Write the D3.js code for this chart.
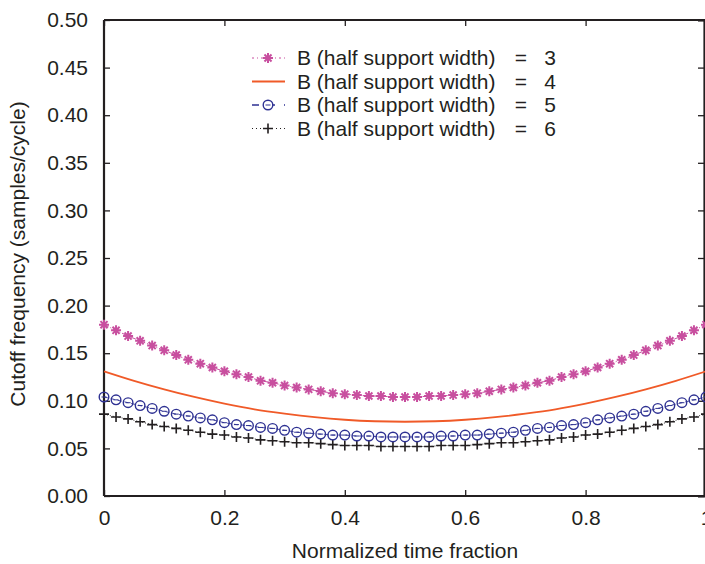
<!DOCTYPE html>
<html>
<head>
<meta charset="utf-8">
<script src="https://cdn.jsdelivr.net/npm/d3@7"></script>
<style>
  body { margin: 0; background: #fff; }
  svg text { font-family: "Liberation Sans", Arial, sans-serif; fill: #231f20; }
</style>
</head>
<body>
<div class="chart"></div>
<script>
// sample positions (normalized time fraction), step 0.02
var tValues = d3.range(51).map(function (i) { return i / 50; });

// values (cutoff frequency, samples/cycle)
var b3 = [0.180, 0.174, 0.168, 0.163, 0.158, 0.153, 0.148, 0.143, 0.139, 0.135,
          0.131, 0.128, 0.125, 0.121, 0.119, 0.116, 0.114, 0.112, 0.110, 0.108,
          0.107, 0.106, 0.105, 0.105, 0.104, 0.104, 0.104, 0.105, 0.105, 0.106,
          0.107, 0.108, 0.110, 0.112, 0.114, 0.116, 0.119, 0.121, 0.125, 0.128,
          0.131, 0.135, 0.139, 0.143, 0.148, 0.153, 0.158, 0.163, 0.168, 0.174, 0.180];
var b5 = [0.104, 0.101, 0.098, 0.095, 0.092, 0.089, 0.086, 0.084, 0.082, 0.080,
          0.077, 0.075, 0.074, 0.072, 0.071, 0.069, 0.067, 0.066, 0.065, 0.064,
          0.064, 0.063, 0.063, 0.062, 0.062, 0.062, 0.062, 0.062, 0.063, 0.063,
          0.064, 0.064, 0.065, 0.066, 0.067, 0.069, 0.071, 0.072, 0.074, 0.075,
          0.077, 0.080, 0.082, 0.084, 0.086, 0.089, 0.092, 0.095, 0.098, 0.101, 0.104];
var b6 = [0.086, 0.083, 0.081, 0.078, 0.075, 0.073, 0.071, 0.069, 0.067, 0.065,
          0.064, 0.062, 0.061, 0.059, 0.058, 0.057, 0.056, 0.056, 0.055, 0.054,
          0.053, 0.053, 0.053, 0.052, 0.052, 0.052, 0.052, 0.052, 0.053, 0.053,
          0.053, 0.054, 0.055, 0.056, 0.056, 0.057, 0.058, 0.059, 0.061, 0.062,
          0.064, 0.065, 0.067, 0.069, 0.071, 0.073, 0.075, 0.078, 0.081, 0.083, 0.086];
// solid curve, sampled every 0.05
var tLine = d3.range(21).map(function (i) { return i / 20; });
var b4 = [0.131, 0.121, 0.112, 0.104, 0.097, 0.091, 0.0865, 0.0828, 0.0801, 0.0785,
          0.078, 0.0785, 0.0801, 0.0828, 0.0865, 0.091, 0.097, 0.104, 0.112, 0.121, 0.131];

var xTicks = [0, 0.2, 0.4, 0.6, 0.8, 1];
var yTicks = [0, 0.05, 0.10, 0.15, 0.20, 0.25, 0.30, 0.35, 0.40, 0.45, 0.50];
var legendLabels = ["3", "4", "5", "6"];

var W = 705, H = 564;
var mLeft = 104, mRight = 706, mTop = 20, mBottom = 496;
var fs = 21;

var svg = d3.select(".chart").append("svg")
    .attr("width", W).attr("height", H);

var x = d3.scaleLinear().domain([0, 1]).range([mLeft, mRight]);
var y = d3.scaleLinear().domain([0, 0.5]).range([mBottom, mTop]);

var axisColor = "#231f20";
var pink = "#c84f9f", orange = "#f05a28", blue = "#2e3192", black = "#231f20";

// axes with inward ticks
var gx = svg.append("g").attr("transform", "translate(0," + mBottom + ")")
    .call(d3.axisBottom(x).tickValues(xTicks).tickSize(-6).tickPadding(14)
        .tickFormat(function (d) { return d === 0 ? "0" : d === 1 ? "1" : d3.format(".1f")(d); }));
var gy = svg.append("g").attr("transform", "translate(" + mLeft + ",0)")
    .call(d3.axisLeft(y).tickValues(yTicks).tickSize(-6).tickPadding(16)
        .tickFormat(d3.format(".2f")));
var gt = svg.append("g").attr("transform", "translate(0," + mTop + ")")
    .call(d3.axisTop(x).tickValues(xTicks).tickSize(-6).tickFormat(""));
var gr = svg.append("g").attr("transform", "translate(" + (mRight - 2) + ",0)")
    .call(d3.axisRight(y).tickValues(yTicks).tickSize(-6).tickFormat(""));

[gx, gy, gt, gr].forEach(function (g) {
    g.select(".domain").attr("stroke", axisColor).attr("stroke-width", 2.2);
    g.selectAll(".tick line").attr("stroke", axisColor).attr("stroke-width", 1.3);
    g.selectAll(".tick text").attr("font-size", fs).style("fill", axisColor)
        .attr("font-family", "Liberation Sans, Arial, sans-serif");
});
gx.selectAll(".tick text").attr("dy", "0.71em");
gy.select(".domain").attr("d", "M0," + mTop + "V" + mBottom);
gx.select(".domain").attr("d", "M" + mLeft + ",0H" + mRight);
gt.select(".domain").attr("d", "M" + mLeft + ",0H" + mRight);

// axis titles
svg.append("text")
    .attr("x", 405).attr("y", 558)
    .attr("text-anchor", "middle").attr("font-size", fs)
    .text("Normalized time fraction");
svg.append("text")
    .attr("transform", "translate(25,254) rotate(-90)")
    .attr("text-anchor", "middle").attr("font-size", fs)
    .text("Cutoff frequency (samples/cycle)");

function pts(vals, ts) {
    return vals.map(function (v, i) { return [ts[i], v]; });
}
var line = d3.line()
    .x(function (d) { return x(d[0]); })
    .y(function (d) { return y(d[1]); });

// marker shapes
function starPath(r) {
    var a = r * 0.707;
    return "M" + (-r) + ",0H" + r + "M0," + (-r) + "V" + r +
        "M" + (-a) + "," + (-a) + "L" + a + "," + a +
        "M" + (-a) + "," + a + "L" + a + "," + (-a);
}
function plusPath(r) {
    return "M" + (-r) + ",0H" + r + "M0," + (-r) + "V" + r;
}

var plot = svg.append("g");

// B = 6 : dotted black with plus
plot.append("path").datum(pts(b6, tValues))
    .attr("fill", "none").attr("stroke", black).attr("stroke-width", 0.9)
    .attr("stroke-dasharray", "1,2").attr("d", line);
plot.append("g").selectAll("path").data(pts(b6, tValues)).enter().append("path")
    .attr("transform", function (d) { return "translate(" + x(d[0]) + "," + y(d[1]) + ")"; })
    .attr("d", plusPath(5)).attr("stroke", black).attr("stroke-width", 1.6).attr("fill", "none");

// B = 5 : dashed blue with circles
plot.append("path").datum(pts(b5, tValues))
    .attr("fill", "none").attr("stroke", blue).attr("stroke-width", 0.9)
    .attr("stroke-dasharray", "4,3").attr("d", line);
plot.append("g").selectAll("circle").data(pts(b5, tValues)).enter().append("circle")
    .attr("cx", function (d) { return x(d[0]); })
    .attr("cy", function (d) { return y(d[1]); })
    .attr("r", 4.8).attr("fill", "none")
    .attr("stroke", blue).attr("stroke-width", 1.4);
plot.append("g").selectAll("line").data(pts(b5, tValues)).enter().append("line")
    .attr("x1", function (d) { return x(d[0]) - 2.5; })
    .attr("x2", function (d) { return x(d[0]) + 2.5; })
    .attr("y1", function (d) { return y(d[1]); })
    .attr("y2", function (d) { return y(d[1]); })
    .attr("stroke", blue).attr("stroke-width", 1);

// B = 4 : solid orange
plot.append("path").datum(pts(b4, tLine))
    .attr("fill", "none").attr("stroke", orange).attr("stroke-width", 1.8)
    .attr("d", d3.line()
        .x(function (d) { return x(d[0]); })
        .y(function (d) { return y(d[1]); })
        .curve(d3.curveCatmullRom));

// B = 3 : dash-dot pink with asterisks
plot.append("path").datum(pts(b3, tValues))
    .attr("fill", "none").attr("stroke", pink).attr("stroke-width", 1)
    .attr("stroke-dasharray", "5,2,1,2").attr("d", line);
plot.append("g").selectAll("path").data(pts(b3, tValues)).enter().append("path")
    .attr("transform", function (d) { return "translate(" + x(d[0]) + "," + y(d[1]) + ")"; })
    .attr("d", starPath(5)).attr("stroke", pink).attr("stroke-width", 2).attr("fill", "none");

// legend
var legendRows = [
    { dash: "2,3,1,3", color: pink, marker: "star", width: 1 },
    { dash: null, color: orange, marker: null, width: 1.8 },
    { dash: "7,9", color: blue, marker: "circle", width: 1.4 },
    { dash: "1,3", color: black, marker: "plus", width: 1 }
];
var legend = svg.append("g");
legendRows.forEach(function (r, i) {
    var ly = 58 + i * 23.5;
    var g = legend.append("g").attr("transform", "translate(0," + ly + ")");
    g.append("line").attr("x1", 252).attr("x2", 285).attr("y1", 0).attr("y2", 0)
        .attr("stroke", r.color).attr("stroke-width", r.width)
        .attr("stroke-dasharray", r.dash);
    if (r.marker === "star") {
        g.append("path").attr("transform", "translate(268,0)").attr("d", starPath(5))
            .attr("stroke", r.color).attr("stroke-width", 2);
    } else if (r.marker === "circle") {
        g.append("circle").attr("cx", 268).attr("cy", 0).attr("r", 4.8)
            .attr("fill", "#fff").attr("stroke", r.color).attr("stroke-width", 1.4);
        g.append("line").attr("x1", 265.5).attr("x2", 270.5).attr("y1", 0).attr("y2", 0)
            .attr("stroke", r.color).attr("stroke-width", 1);
    } else if (r.marker === "plus") {
        g.append("path").attr("transform", "translate(268,0)").attr("d", plusPath(5))
            .attr("stroke", r.color).attr("stroke-width", 1.6);
    }
    g.append("text").attr("x", 297).attr("y", 0).attr("dy", "0.35em")
        .attr("font-size", fs).text("B (half support width)");
    g.append("text").attr("x", 521).attr("y", 0).attr("dy", "0.35em")
        .attr("text-anchor", "middle").attr("font-size", fs).text("=");
    g.append("text").attr("x", 550).attr("y", 0).attr("dy", "0.35em")
        .attr("text-anchor", "middle").attr("font-size", fs).text(legendLabels[i]);
});
</script>
</body>
</html>
